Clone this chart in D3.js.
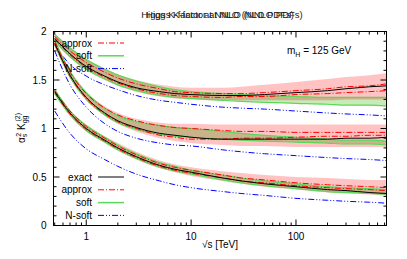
<!DOCTYPE html>
<html>
<head>
<meta charset="utf-8">
<script src="https://cdnjs.cloudflare.com/ajax/libs/d3/7.8.5/d3.min.js"></script>
<style>
body{margin:0;background:#fff;}
svg text{font-family:"Liberation Sans",Arial,sans-serif;}
</style>
</head>
<body>
<svg id="chart" width="407" height="259"></svg>
<script>
// sqrt(s) in TeV
var energies=[0.5,0.7,1,1.5,2,3,5,7,10,20,30,50,100,200,300,500,730];

// top group
var topExact  =[1.93,1.77,1.64,1.54,1.48,1.42,1.38,1.36,1.35,1.34,1.34,1.35,1.37,1.39,1.41,1.43,1.44];
var topApprox1=[1.95,1.80,1.68,1.58,1.52,1.46,1.41,1.38,1.37,1.36,1.36,1.37,1.39,1.41,1.43,1.44,1.46];
var topApprox2=[1.92,1.76,1.63,1.53,1.47,1.41,1.36,1.34,1.33,1.32,1.33,1.33,1.35,1.36,1.37,1.38,1.39];
var topBandHi =[1.98,1.84,1.72,1.62,1.56,1.50,1.45,1.43,1.42,1.42,1.43,1.45,1.48,1.51,1.53,1.55,1.57];
var topBandLo =[1.89,1.73,1.60,1.50,1.44,1.38,1.33,1.31,1.30,1.29,1.29,1.29,1.29,1.29,1.30,1.30,1.30];
var topSoftHi =[1.97,1.83,1.71,1.61,1.55,1.49,1.43,1.40,1.38,1.36,1.35,1.34,1.33,1.32,1.32,1.32,1.32];
var topSoftLo =[1.90,1.74,1.61,1.51,1.45,1.39,1.34,1.32,1.31,1.29,1.28,1.27,1.26,1.25,1.24,1.24,1.23];
var topNsoft  =[1.86,1.66,1.54,1.45,1.40,1.34,1.29,1.27,1.25,1.22,1.21,1.20,1.18,1.16,1.15,1.14,1.13];

// middle group
var midExact  =[1.88,1.55,1.32,1.16,1.08,1.01,0.95,0.93,0.91,0.89,0.89,0.89,0.89,0.89,0.90,0.90,0.91];
var midApprox1=[1.90,1.58,1.36,1.21,1.14,1.08,1.03,1.01,1.00,0.98,0.97,0.97,0.96,0.96,0.96,0.96,0.96];
var midApprox2=[1.87,1.54,1.31,1.15,1.07,1.00,0.93,0.91,0.89,0.89,0.90,0.90,0.91,0.92,0.92,0.93,0.93];
var midBandHi =[1.92,1.60,1.38,1.23,1.16,1.10,1.06,1.05,1.05,1.04,1.04,1.04,1.04,1.04,1.04,1.04,1.04];
var midBandLo =[1.85,1.52,1.29,1.13,1.05,0.97,0.90,0.87,0.85,0.83,0.82,0.82,0.81,0.81,0.81,0.81,0.81];
var midSoftHi =[1.91,1.59,1.37,1.21,1.13,1.07,1.03,1.01,1.00,0.97,0.95,0.93,0.91,0.89,0.88,0.88,0.87];
var midSoftLo =[1.86,1.53,1.30,1.14,1.06,0.99,0.94,0.92,0.91,0.89,0.88,0.87,0.86,0.85,0.84,0.84,0.83];
var midNsoft  =[1.80,1.45,1.22,1.05,0.97,0.90,0.85,0.83,0.82,0.78,0.76,0.74,0.72,0.70,0.69,0.68,0.67];

// bottom group
var lowExact  =[1.38,1.16,1.00,0.88,0.80,0.71,0.62,0.58,0.55,0.49,0.46,0.43,0.40,0.37,0.36,0.34,0.33];
var lowApprox1=[1.39,1.18,1.02,0.90,0.82,0.73,0.64,0.60,0.57,0.52,0.49,0.47,0.44,0.42,0.41,0.40,0.39];
var lowApprox2=[1.37,1.15,0.99,0.87,0.79,0.70,0.61,0.57,0.54,0.49,0.46,0.44,0.41,0.39,0.38,0.37,0.36];
var lowBandHi =[1.41,1.19,1.04,0.92,0.85,0.76,0.67,0.63,0.60,0.56,0.54,0.52,0.50,0.49,0.48,0.47,0.47];
var lowBandLo =[1.35,1.13,0.97,0.85,0.77,0.68,0.59,0.55,0.51,0.46,0.43,0.40,0.37,0.34,0.33,0.32,0.31];
var lowSoftHi =[1.40,1.18,1.03,0.91,0.83,0.74,0.65,0.61,0.57,0.52,0.49,0.46,0.43,0.40,0.39,0.38,0.37];
var lowSoftLo =[1.36,1.14,0.98,0.86,0.78,0.69,0.60,0.56,0.53,0.47,0.44,0.41,0.38,0.35,0.34,0.33,0.32];
var lowNsoft  =[1.18,0.95,0.79,0.68,0.61,0.53,0.46,0.42,0.39,0.35,0.33,0.31,0.28,0.26,0.25,0.24,0.23];

var yTicks=[0,0.5,1,1.5,2];
var xTicks=[1,10,100];
var legendNames=["exact","approx","soft","N-soft"];
// two plots drawn over each other in the original, so two titles share one spot
var titles=["Higgs K-factor at NLO (NLO PDFs)","Higgs K-factor at NNLO (NNLO PDFs)"];

var colExact="#000000", colApprox="#ff0000", colSoft="#5ad85a", colNsoft="#0000ff";
var colBand="#ffb8b8", colSoftBand="#c8eab4";

var svg=d3.select("#chart");
var L=53.5,R=386.5,T=31.5,B=225.5;
var x=d3.scaleLog().domain([0.487,730]).range([L,R]);
var y=d3.scaleLinear().domain([0,2]).range([B,T]);

var clip=svg.append("defs").append("clipPath").attr("id","pc");
clip.append("rect").attr("x",L).attr("y",T).attr("width",R-L).attr("height",B-T);
var plot=svg.append("g").attr("clip-path","url(#pc)");

var line=d3.line().x(function(d){return x(d[0]);}).y(function(d){return y(d[1]);}).curve(d3.curveMonotoneX);
var area=d3.area().x(function(d){return x(d[0]);}).y0(function(d){return y(d[1]);}).y1(function(d){return y(d[2]);}).curve(d3.curveMonotoneX);

function pts(arr){ return energies.map(function(e,i){return [e,arr[i]];}); }
function band(lo,hi){ return energies.map(function(e,i){return [e,lo[i],hi[i]];}); }

var groups=[
	{ex:topExact,a1:topApprox1,a2:topApprox2,bl:topBandLo,bh:topBandHi,sl:topSoftLo,sh:topSoftHi,ns:topNsoft},
	{ex:midExact,a1:midApprox1,a2:midApprox2,bl:midBandLo,bh:midBandHi,sl:midSoftLo,sh:midSoftHi,ns:midNsoft},
	{ex:lowExact,a1:lowApprox1,a2:lowApprox2,bl:lowBandLo,bh:lowBandHi,sl:lowSoftLo,sh:lowSoftHi,ns:lowNsoft}
	];

groups.forEach(function(g){
	plot.append("path").attr("d",area(band(g.bl,g.bh))).attr("fill",colBand).attr("opacity",0.85);
	plot.append("path").attr("d",area(band(g.sl,g.sh))).attr("fill",colSoftBand).style("mix-blend-mode","multiply");
	});
groups.forEach(function(g){
	plot.append("path").attr("d",line(pts(g.sh))).attr("fill","none").attr("stroke",colSoft).attr("stroke-width",1.2);
	plot.append("path").attr("d",line(pts(g.sl))).attr("fill","none").attr("stroke",colSoft).attr("stroke-width",1.2);
	plot.append("path").attr("d",line(pts(g.ns))).attr("fill","none").attr("stroke",colNsoft).attr("stroke-width",1).attr("stroke-dasharray","6,2,1,2,1,2");
	plot.append("path").attr("d",line(pts(g.a1))).attr("fill","none").attr("stroke",colApprox).attr("stroke-width",1).attr("stroke-dasharray","6,2,1,2");
	plot.append("path").attr("d",line(pts(g.a2))).attr("fill","none").attr("stroke",colApprox).attr("stroke-width",1).attr("stroke-dasharray","6,2,1,2");
	plot.append("path").attr("d",line(pts(g.ex))).attr("fill","none").attr("stroke",colExact).attr("stroke-width",1);
	});

// frame and ticks (gnuplot style, inward, mirrored)
var axes=svg.append("g").attr("stroke","#000").attr("stroke-width",1);
axes.append("rect").attr("x",L).attr("y",T).attr("width",R-L).attr("height",B-T).attr("fill","none");
var minorX=[];
[0.1,1,10,100].forEach(function(dec){ for(var k=2;k<=9;k++){ var v=dec*k; if(v>=x.domain()[0]&&v<=x.domain()[1]) minorX.push(v);} });
minorX.forEach(function(v){
	axes.append("line").attr("x1",x(v)).attr("x2",x(v)).attr("y1",B).attr("y2",B-3);
	axes.append("line").attr("x1",x(v)).attr("x2",x(v)).attr("y1",T).attr("y2",T+3);
	});
xTicks.forEach(function(v){
	axes.append("line").attr("x1",x(v)).attr("x2",x(v)).attr("y1",B).attr("y2",B-6);
	axes.append("line").attr("x1",x(v)).attr("x2",x(v)).attr("y1",T).attr("y2",T+6);
	});
d3.range(0,2.001,0.1).forEach(function(v){
	var major=yTicks.some(function(t){return Math.abs(t-v)<1e-6;});
	var len=major?6:3;
	axes.append("line").attr("x1",L).attr("x2",L+len).attr("y1",y(v)).attr("y2",y(v));
	axes.append("line").attr("x1",R).attr("x2",R-len).attr("y1",y(v)).attr("y2",y(v));
	});

var txt=svg.append("g").attr("font-size",10).attr("fill","#000");
yTicks.forEach(function(v){
	txt.append("text").attr("x",L-7).attr("y",y(v)+3.5).attr("text-anchor","end").text(d3.format("")(v));
	});
xTicks.forEach(function(v){
	txt.append("text").attr("x",x(v)).attr("y",B+14).attr("text-anchor","middle").text(v);
	});
txt.append("text").attr("x",220).attr("y",248).attr("text-anchor","middle").text("\u221As [TeV]");

// y label
var yl=txt.append("text").attr("transform","translate(25,128) rotate(-90)").attr("text-anchor","middle");
yl.append("tspan").text("\u03B1");
yl.append("tspan").attr("font-size",7).attr("dy",2).text("s");
yl.append("tspan").attr("font-size",7).attr("dy",-6).attr("dx",-3).text("2");
yl.append("tspan").attr("dy",4).text(" K");
yl.append("tspan").attr("font-size",7).attr("dy",2).text("gg");
yl.append("tspan").attr("font-size",7).attr("dy",-7).attr("dx",-6).text("(2)");

titles.forEach(function(t,i){
	txt.append("text").attr("x",220+i*2).attr("y",18).attr("text-anchor","middle").attr("font-size",9.5).attr("fill","#222").text(t);
	});

// m_H label
var mh=txt.append("text").attr("x",287).attr("y",54);
mh.append("tspan").text("m");
mh.append("tspan").attr("font-size",7).attr("dy",2.5).text("H");
mh.append("tspan").attr("dy",-2.5).text(" = 125 GeV");

// legends
var legStyles=[
	{c:colExact,dash:null,w:1},
	{c:colApprox,dash:"6,2,1,2",w:1},
	{c:colSoft,dash:null,w:1.5},
	{c:colNsoft,dash:"6,2,1,2,1,2",w:1}
	];
function legend(y0,from){
	for(var i=from;i<legendNames.length;i++){
		var yy=y0+(i-from)*12.8;
		txt.append("text").attr("x",92).attr("y",yy+3.5).attr("text-anchor","end").text(legendNames[i]);
		svg.append("line").attr("x1",98).attr("x2",124).attr("y1",yy).attr("y2",yy)
			.attr("stroke",legStyles[i].c).attr("stroke-width",legStyles[i].w).attr("stroke-dasharray",legStyles[i].dash);
		}
	}
legend(177,0);
legend(43,1);
</script>
</body>
</html>
